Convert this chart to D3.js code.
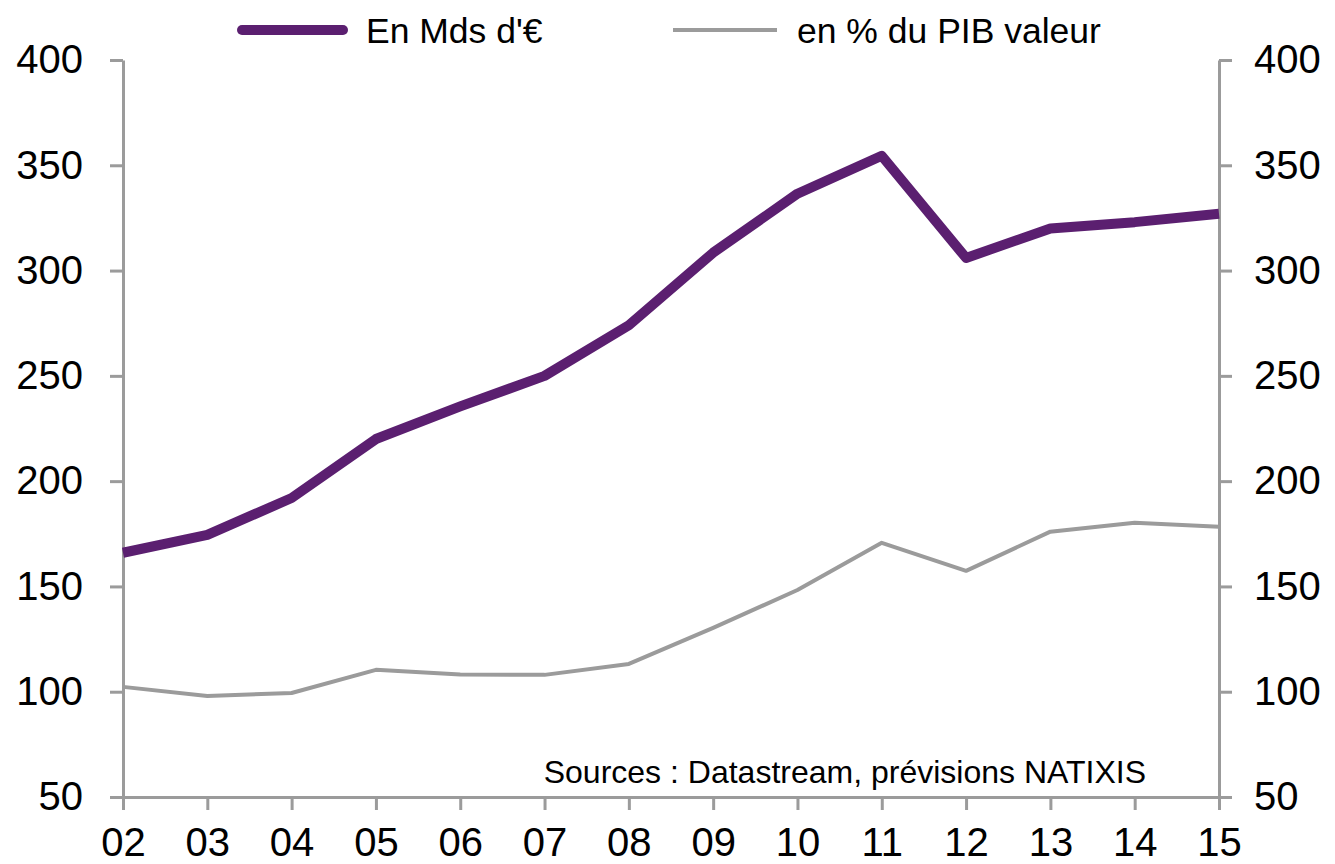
<!DOCTYPE html>
<html>
<head>
<meta charset="utf-8">
<script src="https://cdn.jsdelivr.net/npm/d3@7"></script>
<style>
  body { margin: 0; background: #fff; }
  svg text { font-family: "Liberation Sans", Arial, Helvetica, sans-serif; fill: #000; }
</style>
</head>
<body>
<svg width="1335" height="864"></svg>
<script>
// years on the x axis
var years = ["02", "03", "04", "05", "06", "07", "08", "09", "10", "11", "12", "13", "14", "15"];
// En Mds d'€
var mdsEuro = [166, 174.5, 192, 220, 235.5, 250, 274, 308.5, 336.5, 354.5, 306, 320, 323, 327];
// en % du PIB valeur
var pctPib = [102.3, 98, 99.4, 110.4, 108.2, 108, 113.2, 130.3, 148.3, 170.7, 157.4, 176, 180.2, 178.3];
var yTicks = [50, 100, 150, 200, 250, 300, 350, 400];
var legendLabels = ["En Mds d'€", "en % du PIB valeur"];
var sourceText = "Sources : Datastream, prévisions NATIXIS";

var svg = d3.select('svg'),
    width = +svg.attr("width"),
    height = +svg.attr("height");

var margin = {top: 60, right: 116, bottom: 67, left: 123};
var innerWidth = width - margin.left - margin.right;
var innerHeight = height - margin.top - margin.bottom;

var purple = "#5b1f70";
var grey = "#9b9b9b";

var xScale = d3.scalePoint()
    .domain(years)
    .range([0, innerWidth]);

var yScale = d3.scaleLinear()
    .domain([50, 400])
    .range([innerHeight, 0]);

var g = svg.append('g')
    .attr('transform', `translate(${margin.left},${margin.top})`);

// axes
var styleAxis = sel => {
    sel.selectAll('path, line').attr('stroke', grey).attr('stroke-width', 3);
    sel.selectAll('text').attr('font-size', 40);
};

g.append('g')
    .call(d3.axisLeft(yScale).tickValues(yTicks).tickSize(13).tickPadding(27).tickSizeOuter(0))
    .call(styleAxis)
    .attr('font-family', null);

g.append('g')
    .attr('transform', `translate(${innerWidth},0)`)
    .call(d3.axisRight(yScale).tickValues(yTicks).tickSize(13).tickPadding(22).tickSizeOuter(0))
    .call(styleAxis)
    .attr('font-family', null);

g.append('g')
    .attr('transform', `translate(0,${innerHeight})`)
    .call(d3.axisBottom(xScale).tickSize(13).tickPadding(18).tickSizeOuter(0))
    .call(styleAxis)
    .attr('font-family', null);

// lines
var line = d3.line()
    .x((d, i) => xScale(years[i]))
    .y(d => yScale(d));

g.append('path')
    .attr('d', line(pctPib))
    .attr('fill', 'none')
    .attr('stroke', grey)
    .attr('stroke-width', 4)
    .attr('stroke-linejoin', 'round');

g.append('path')
    .attr('d', line(mdsEuro))
    .attr('fill', 'none')
    .attr('stroke', purple)
    .attr('stroke-width', 10)
    .attr('stroke-linejoin', 'round');

// source note
g.append('text')
    .attr('x', 1146 - margin.left)
    .attr('y', 783 - margin.top)
    .attr('text-anchor', 'end')
    .attr('font-size', 32)
    .text(sourceText);

// legend
var legend = svg.append('g');
var legendItems = [
    {x0: 242, x1: 343, tx: 366, color: purple, w: 10, cap: 'round'},
    {x0: 673, x1: 777, tx: 797, color: grey, w: 4, cap: 'butt'}
];
legendItems.forEach((d, i) => {
    legend.append('line')
        .attr('x1', d.x0).attr('x2', d.x1)
        .attr('y1', 30).attr('y2', 30)
        .attr('stroke', d.color)
        .attr('stroke-width', d.w)
        .attr('stroke-linecap', d.cap);
    legend.append('text')
        .attr('x', d.tx)
        .attr('y', 43)
        .attr('font-size', 35.5)
        .text(legendLabels[i]);
});
</script>
</body>
</html>
